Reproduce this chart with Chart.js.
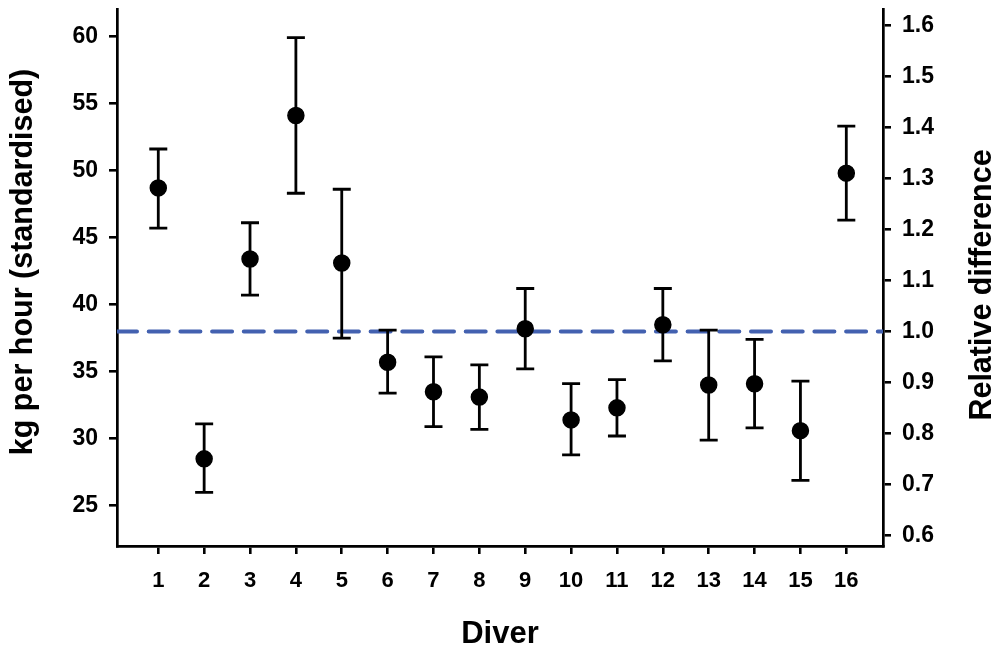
<!DOCTYPE html>
<html><head><meta charset="utf-8">
<script src="https://cdn.jsdelivr.net/npm/chart.js@4"></script>
<style>html,body{margin:0;padding:0;background:#fff}#wrap{width:998px;height:655px}</style>
</head><body><div id="wrap"><canvas id="c" width="998" height="655"></canvas></div>
<script>
// ---- data ----
const divers = [1, 2, 3, 4, 5, 6, 7, 8, 9, 10, 11, 12, 13, 14, 15, 16];
const means  = [48.7, 28.5, 43.4, 54.1, 43.1, 35.7, 33.5, 33.1, 38.2, 31.4, 32.3, 38.5, 34.0, 34.1, 30.6, 49.8];
const upper  = [51.6, 31.1, 46.1, 59.9, 48.6, 38.1, 36.1, 35.5, 41.2, 34.1, 34.4, 41.2, 38.1, 37.4, 34.3, 53.3];
const lower  = [45.7, 26.0, 40.7, 48.3, 37.5, 33.4, 30.9, 30.7, 35.2, 28.8, 30.2, 35.8, 29.9, 30.8, 26.9, 46.3];
const referenceLevel = 38;           // kg/h corresponding to relative difference 1.0
const leftTicks  = [25, 30, 35, 40, 45, 50, 55, 60];
const rightTicks = [0.6, 0.7, 0.8, 0.9, 1.0, 1.1, 1.2, 1.3, 1.4, 1.5, 1.6];
const leftMin = 22, leftMax = 62;
const xMin = 0.1, xMax = 16.8;
const xTitle = 'Diver';
const leftTitle = 'kg per hour (standardised)';
const rightTitle = 'Relative difference';

const FONT = "'Liberation Sans', Arial, Helvetica, sans-serif";

const errorBars = {
  id: 'errorBars',
  beforeDatasetDraw(chart, args) {
    if (args.index !== 1) return;
    const ctx = chart.ctx, xs = chart.scales.x, ys = chart.scales.y;
    ctx.save();
    ctx.strokeStyle = '#000';
    ctx.lineWidth = 2.8;
    ctx.lineCap = 'butt';
    divers.forEach((d, i) => {
      const px = xs.getPixelForValue(d);
      const pt = ys.getPixelForValue(upper[i]);
      const pb = ys.getPixelForValue(lower[i]);
      ctx.beginPath();
      ctx.moveTo(px, pt); ctx.lineTo(px, pb);
      ctx.moveTo(px - 9, pt); ctx.lineTo(px + 9, pt);
      ctx.moveTo(px - 9, pb); ctx.lineTo(px + 9, pb);
      ctx.stroke();
    });
    ctx.restore();
  }
};

// vertical axis titles, both reading bottom-to-top as in the reference
const axisTitles = {
  id: 'axisTitles',
  afterDraw(chart) {
    const ctx = chart.ctx;
    ctx.save();
    ctx.fillStyle = '#000';
    ctx.font = "bold 30.5px " + FONT;
    ctx.textAlign = 'center';
    ctx.textBaseline = 'middle';
    ctx.save(); ctx.translate(24, 262); ctx.rotate(-Math.PI / 2); ctx.fillText(leftTitle, 0, 0); ctx.restore();
    ctx.save(); ctx.translate(983, 285); ctx.rotate(-Math.PI / 2); ctx.fillText(rightTitle, 0, 0); ctx.restore();
    ctx.restore();
  }
};

const axisGrid = { display: true, drawOnChartArea: false, drawTicks: true, tickLength: 8, tickColor: '#000', tickWidth: 2.6, lineWidth: 2.6, color: '#000' };
const axisBorder = { display: true, color: '#000', width: 2.7 };
const noPad = s => { s.paddingTop = 0; s.paddingBottom = 0; s.paddingLeft = 0; s.paddingRight = 0; };

new Chart(document.getElementById('c'), {
  type: 'scatter',
  data: {
    datasets: [
      {
        type: 'line',
        data: [{ x: xMin, y: referenceLevel }, { x: xMax, y: referenceLevel }],
        borderColor: '#4361B0',
        borderWidth: 4,
        borderDash: [20, 11.7],
        borderCapStyle: 'round',
        pointRadius: 0,
        order: 2
      },
      {
        data: divers.map((d, i) => ({ x: d, y: means[i] })),
        backgroundColor: '#000',
        borderColor: '#000',
        borderWidth: 1.5,
        pointRadius: 8,
        pointHoverRadius: 8,
        order: 1
      }
    ]
  },
  options: {
    responsive: false,
    animation: false,
    devicePixelRatio: 1,
    layout: { padding: { top: 9, left: 0, right: 0, bottom: 0 } },
    plugins: { legend: { display: false }, tooltip: { enabled: false } },
    scales: {
      x: {
        type: 'linear', position: 'bottom', min: xMin, max: xMax,
        afterBuildTicks: s => { s.ticks = divers.map(v => ({ value: v })); },
        afterFit: s => { s.height = 109; noPad(s); },
        ticks: { autoSkip: false, maxRotation: 0, color: '#000', padding: 14,
                 font: { family: FONT, size: 22, weight: 'bold' }, callback: v => String(v) },
        grid: axisGrid, border: axisBorder,
        title: { display: true, text: xTitle, color: '#000', padding: { top: 0, bottom: 2 },
                 font: { family: FONT, size: 31, weight: 'bold' } }
      },
      y: {
        type: 'linear', position: 'left', min: leftMin, max: leftMax,
        afterBuildTicks: s => { s.ticks = leftTicks.map(v => ({ value: v })); },
        afterFit: s => { s.width = 117; noPad(s); },
        ticks: { color: '#000', padding: 11, font: { family: FONT, size: 23, weight: 'bold' }, callback: v => String(v) },
        grid: axisGrid, border: axisBorder,
        title: { display: false }
      },
      y2: {
        type: 'linear', position: 'right', min: leftMin / referenceLevel, max: leftMax / referenceLevel,
        afterBuildTicks: s => { s.ticks = rightTicks.map(v => ({ value: v })); },
        afterFit: s => { s.width = 115; noPad(s); },
        ticks: { color: '#000', padding: 11, font: { family: FONT, size: 23, weight: 'bold' }, callback: v => v.toFixed(1) },
        grid: axisGrid, border: axisBorder,
        title: { display: false }
      }
    }
  },
  plugins: [errorBars, axisTitles]
});
</script>
</body></html>
